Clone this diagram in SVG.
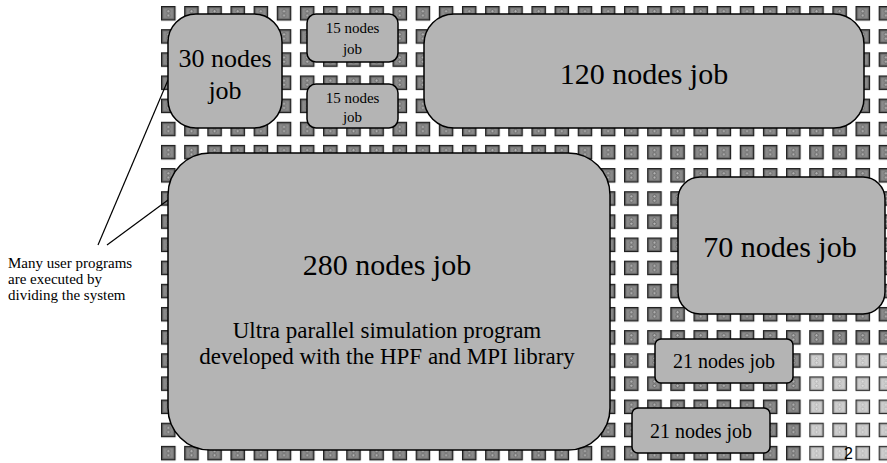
<svg xmlns="http://www.w3.org/2000/svg" width="887" height="463" viewBox="0 0 887 463">
  <style>
    .job { fill: #b4b4b4; stroke: #000; stroke-width: 1.5; }
    .t { font-family: "Liberation Serif", "Times New Roman", serif; fill: #000; text-anchor: middle; }
    .note { font-family: "Liberation Serif", "Times New Roman", serif; fill: #000; font-size: 15px; }
    .lead { stroke: #000; stroke-width: 1.2; fill: none; }
  </style>
  <defs>
    <!-- one processor cell of the machine grid -->
    <pattern id="cell" x="161" y="6" width="23.15" height="23.15" patternUnits="userSpaceOnUse">
      <rect x="0.6" y="0.6" width="13.4" height="13.4" fill="#6a6a6a" stroke="#1e1e1e" stroke-width="1.2"/>
      <rect x="2.3" y="2.3" width="10" height="10" fill="#8a8a8a"/>
      <circle cx="7.3" cy="5.2" r="1.6" fill="#b8b8b8" stroke="#444" stroke-width="0.6"/>
      <circle cx="7.3" cy="9.4" r="1.6" fill="#b8b8b8" stroke="#444" stroke-width="0.6"/>
    </pattern>
    <!-- idle cell (lighter) -->
    <pattern id="idle" x="161" y="6" width="23.15" height="23.15" patternUnits="userSpaceOnUse">
      <rect x="0.6" y="0.6" width="13.4" height="13.4" fill="#b0b0b0" stroke="#2e2e2e" stroke-width="1.2"/>
      <rect x="2.3" y="2.3" width="10" height="10" fill="#cdcdcd"/>
      <circle cx="7.3" cy="5.2" r="1.5" fill="#e2e2e2" stroke="#9a9a9a" stroke-width="0.5"/>
      <circle cx="7.3" cy="9.4" r="1.5" fill="#e2e2e2" stroke="#9a9a9a" stroke-width="0.5"/>
    </pattern>
  </defs>

  <rect width="887" height="463" fill="#fff"/>

  <!-- processor grid -->
  <g id="grid">
    <rect x="161" y="6" width="726" height="457" fill="url(#cell)"/>
    <rect x="809.2" y="353.25" width="77.8" height="109.75" fill="#fff"/>
    <rect x="809.2" y="353.25" width="77.8" height="109.75" fill="url(#idle)"/>
  </g>

  <!-- page number -->
  <text x="844" y="459" font-family="Liberation Sans, Arial, sans-serif" font-size="16" fill="#000">2</text>

  <!-- annotation leaders -->
  <g id="connectors">
    <line class="lead" x1="98" y1="245" x2="168" y2="80"/>
    <line class="lead" x1="107" y1="245" x2="168" y2="200"/>
  </g>

  <g id="note">
    <text class="note" x="8" y="268">Many user programs</text>
    <text class="note" x="8" y="284">are executed by</text>
    <text class="note" x="8" y="300">dividing the system</text>
  </g>

  <g id="job30">
    <rect class="job" x="168" y="14" width="114" height="114" rx="28" ry="28"/>
    <text class="t" x="225" y="67" font-size="26">30 nodes</text>
    <text class="t" x="225" y="99" font-size="26">job</text>
  </g>

  <g id="job15a">
    <rect class="job" x="307" y="14" width="91" height="48" rx="9" ry="9"/>
    <text class="t" x="352.5" y="33" font-size="15">15 nodes</text>
    <text class="t" x="352.5" y="54" font-size="15">job</text>
  </g>

  <g id="job15b">
    <rect class="job" x="307" y="84" width="91" height="44" rx="9" ry="9"/>
    <text class="t" x="352.5" y="103" font-size="15">15 nodes</text>
    <text class="t" x="352.5" y="122" font-size="15">job</text>
  </g>

  <g id="job120">
    <rect class="job" x="424" y="14" width="440" height="114" rx="30" ry="30"/>
    <text class="t" x="644" y="84" font-size="30">120 nodes job</text>
  </g>

  <g id="job280">
    <rect class="job" x="168" y="153" width="442" height="297" rx="42" ry="42"/>
    <text class="t" x="387" y="275" font-size="30">280 nodes job</text>
    <text class="t" x="387" y="338" font-size="23">Ultra parallel simulation program</text>
    <text class="t" x="387" y="364" font-size="23">developed with the HPF and MPI library</text>
  </g>

  <g id="job70">
    <rect class="job" x="678" y="177" width="207" height="137" rx="22" ry="22"/>
    <text class="t" x="780" y="257" font-size="30">70 nodes job</text>
  </g>

  <g id="job21a">
    <rect class="job" x="655" y="339" width="138" height="44" rx="6" ry="6"/>
    <text class="t" x="724" y="368" font-size="20">21 nodes job</text>
  </g>

  <g id="job21b">
    <rect class="job" x="632" y="408" width="138" height="45" rx="6" ry="6"/>
    <text class="t" x="701" y="438" font-size="20">21 nodes job</text>
  </g>
</svg>
